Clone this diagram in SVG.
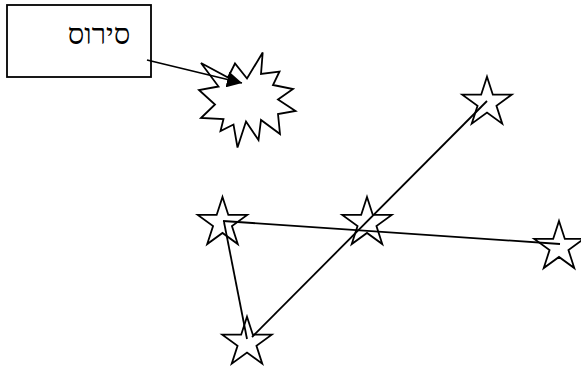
<svg xmlns="http://www.w3.org/2000/svg" width="581" height="369" viewBox="0 0 581 369">
<style>
.shape{fill:#fff;stroke:#000;stroke-width:1.8;stroke-linejoin:miter}
.conn{stroke:#000;stroke-width:1.8;fill:none}
.lbl{font-family:"Liberation Serif","DejaVu Serif","DejaVu Sans",serif;font-size:29px;fill:#000}
</style>
<defs>
<path id="star" d="M0,-26 L5.84,-8.03 L24.73,-8.03 L9.44,3.07 L15.28,21.03 L0,9.93 L-15.28,21.03 L-9.44,3.07 L-24.73,-8.03 L-5.84,-8.03 Z"/>
<marker id="arr" markerUnits="userSpaceOnUse" markerWidth="15" markerHeight="16" refX="15" refY="8" orient="auto">
<path d="M0,0 L15,8 L0,16 Z" fill="#000"/>
</marker>
</defs>
<rect width="581" height="369" fill="#fff"/>
<g id="box">
<rect class="shape" x="7" y="5" width="144" height="72"/>
<text class="lbl" x="99" y="44" text-anchor="middle" direction="rtl">סירוס</text>
</g>
<g id="burst">
<polygon class="shape" points="262.7,52.5 261,74 279.5,71.5 273,85 293,89 278,99.5 295.5,111 278,114 280,134 261,120 258.5,140 246,121.5 237.5,147.5 233.5,124.5 220.5,131 223.5,119 201,118 215,104.5 199,90 218.5,86.5 201,63 228,77.5 235,63.5 247,78.5"/>
</g>
<g id="star1"><use href="#star" class="shape" x="222.5" y="223"/></g>
<g id="star2"><use href="#star" class="shape" x="367" y="223"/></g>
<g id="star3"><use href="#star" class="shape" x="247" y="342.7"/></g>
<g id="star4"><use href="#star" class="shape" x="487" y="102.7"/></g>
<g id="star5"><use href="#star" class="shape" x="559" y="247"/></g>
<g id="connectors">
<line class="conn" x1="147" y1="60" x2="242" y2="83" marker-end="url(#arr)"/>
<line class="conn" x1="223" y1="221" x2="560" y2="244"/>
<line class="conn" x1="224" y1="222" x2="247" y2="339"/>
<line class="conn" x1="252" y1="337" x2="487" y2="101"/>
</g>
</svg>
